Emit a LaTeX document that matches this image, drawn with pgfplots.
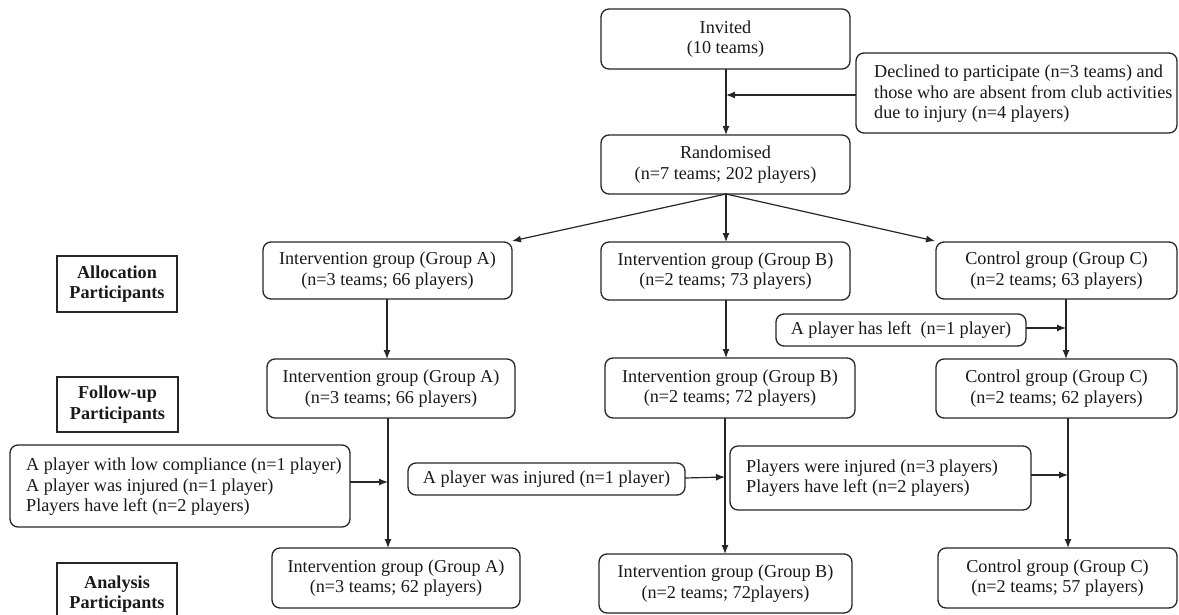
\documentclass[border=0pt]{standalone}
\usepackage{fontspec}
\setmainfont{Liberation Serif}
\usepackage{pgfplots}
\pgfplotsset{compat=1.18}
\usetikzlibrary{arrows.meta}

\begin{document}
\begin{tikzpicture}
\tikzset{
  every node/.style={font=\fontsize{18.2}{20.5}\selectfont, text=black!90},
  box/.style={draw=black!85, line width=1.3pt, rounded corners=8pt, align=center, inner sep=0pt},
  txt/.style={align=left, anchor=west, inner sep=0pt},
  stage/.style={draw=black!85, line width=1.3pt, align=center, inner sep=0pt, font=\fontsize{18.2}{20.5}\selectfont\bfseries},
  arr/.style={draw=black!85, line width=1.2pt, -{Latex[length=9pt,width=7pt]}},
}
\begin{axis}[
  scale only axis,
  width=1179pt, height=615pt,
  xmin=0, xmax=1179, ymin=0, ymax=615,
  y dir=reverse,
  hide axis,
  clip=false,
]
% boxes: centre x, centre y, width, height (pixels of the reference)
\node[box, minimum width=249pt, minimum height=60pt] at (axis cs:725.5,39) {Invited\\(10 teams)};
\node[box, minimum width=321pt, minimum height=80pt] at (axis cs:1016.5,93) {};
\node[txt] at (axis cs:874,94)
  {Declined to participate (n=3 teams) and\\those who are absent from club activities\\due to injury (n=4 players)};
\node[box, minimum width=249pt, minimum height=59pt] at (axis cs:725.5,164.5) {Randomised\\(n=7 teams; 202 players)};

\node[stage, minimum width=120pt, minimum height=56pt] at (axis cs:117,284) {Allocation\\Participants};
\node[box, minimum width=249pt, minimum height=57pt] at (axis cs:387.5,270.5) {Intervention group (Group A)\\(n=3 teams; 66 players)};
\node[box, minimum width=249pt, minimum height=58pt] at (axis cs:725.5,271) {Intervention group (Group B)\\(n=2 teams; 73 players)};
\node[box, minimum width=241pt, minimum height=57pt] at (axis cs:1056.5,270.5) {Control group (Group C)\\(n=2 teams; 63 players)};
\node[box, minimum width=250pt, minimum height=32pt] at (axis cs:901,330) {A player has left~ (n=1 player)};

\node[stage, minimum width=121pt, minimum height=55pt] at (axis cs:117.5,404.5) {Follow-up\\Participants};
\node[box, minimum width=248pt, minimum height=59pt] at (axis cs:391,388.5) {Intervention group (Group A)\\(n=3 teams; 66 players)};
\node[box, minimum width=250pt, minimum height=60pt] at (axis cs:730,388) {Intervention group (Group B)\\(n=2 teams; 72 players)};
\node[box, minimum width=241pt, minimum height=59pt] at (axis cs:1056.5,388.5) {Control group (Group C)\\(n=2 teams; 62 players)};

\node[box, minimum width=340pt, minimum height=82pt] at (axis cs:180,486) {};
\node[txt] at (axis cs:26,487)
  {A player with low compliance (n=1 player)\\A player was injured (n=1 player)\\Players have left (n=2 players)};
\node[box, minimum width=277pt, minimum height=32pt] at (axis cs:546.5,479) {A player was injured (n=1 player)};
\node[box, minimum width=301pt, minimum height=64pt] at (axis cs:880.5,478) {};
\node[txt] at (axis cs:746,478)
  {Players were injured (n=3 players)\\Players have left (n=2 players)};

\node[stage, minimum width=120pt, minimum height=62pt] at (axis cs:117,594) {Analysis\\Participants};
\node[box, minimum width=248pt, minimum height=60pt] at (axis cs:396,578) {Intervention group (Group A)\\(n=3 teams; 62 players)};
\node[box, minimum width=253pt, minimum height=59pt] at (axis cs:725.5,583.5) {Intervention group (Group B)\\(n=2 teams; 72players)};
\node[box, minimum width=239pt, minimum height=60pt] at (axis cs:1057.5,578) {Control group (Group C)\\(n=2 teams; 57 players)};

% connectors
\draw[arr] (axis cs:726,69) -- (axis cs:726,135);
\draw[arr] (axis cs:856,95) -- (axis cs:726,95);
\draw[arr] (axis cs:726,194) -- (axis cs:512,241);
\draw[arr] (axis cs:726,194) -- (axis cs:726,242);
\draw[arr] (axis cs:726,194) -- (axis cs:935,241);
\draw[arr] (axis cs:387,299) -- (axis cs:387,359);
\draw[arr] (axis cs:726,300) -- (axis cs:726,358);
\draw[arr] (axis cs:1066,299) -- (axis cs:1066,359);
\draw[arr] (axis cs:1026,328) -- (axis cs:1066,328);
\draw[arr] (axis cs:388,418) -- (axis cs:388,548);
\draw[arr] (axis cs:350,482) -- (axis cs:388,482);
\draw[arr] (axis cs:725,418) -- (axis cs:725,554);
\draw[arr] (axis cs:685,478) -- (axis cs:725,477);
\draw[arr] (axis cs:1068,418) -- (axis cs:1068,548);
\draw[arr] (axis cs:1031,475) -- (axis cs:1068,475);
\end{axis}
\pgfresetboundingbox
\path[use as bounding box] (current axis.south west) rectangle (current axis.north east);
\end{tikzpicture}
\end{document}
